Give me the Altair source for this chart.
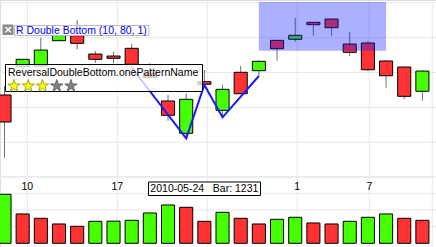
import altair as alt
import pandas as pd

# ---------------- data ----------------
opens  = [1.21678, 1.22083, 1.22093, 1.22456, 1.22527, 1.22265, 1.22236, 1.22347,
          1.21989, 1.21592, 1.21129, 1.21868, 1.21458, 1.22003, 1.22026, 1.22461,
          1.22476, 1.22719, 1.22766, 1.22408, 1.22423, 1.22165, 1.22079, 1.21731]
highs  = [1.21807, 1.22189, 1.22501, 1.22537, 1.22756, 1.22308, 1.22298, 1.22408,
          1.22132, 1.21678, 1.21702, 1.22036, 1.21821, 1.22097, 1.22179, 1.22466,
          1.22785, 1.22723, 1.22766, 1.22580, 1.22451, 1.22179, 1.22079, 1.22036]
lows   = [1.20775, 1.22050, 1.22079, 1.22456, 1.22332, 1.22136, 1.22132, 1.22072,
          1.21903, 1.21309, 1.21057, 1.21821, 1.21358, 1.21692, 1.21950, 1.22169,
          1.22441, 1.22527, 1.22527, 1.22236, 1.22021, 1.21782, 1.21620, 1.21596]
closes = [1.21291, 1.22189, 1.22322, 1.22530, 1.22418, 1.22189, 1.22203, 1.22118,
          1.21931, 1.21387, 1.21616, 1.21831, 1.21759, 1.21696, 1.22160, 1.22341,
          1.22533, 1.22685, 1.22642, 1.22289, 1.22040, 1.21954, 1.21659, 1.22021]
volumes = [2940, 1760, 1500, 1160, 1020, 1320, 1330, 1380, 1820, 2300, 2160, 1320,
           1860, 1500, 1160, 1440, 1560, 1220, 1160, 1320, 1560, 1760, 1500, 1380]

tick_pos = [1.255, 6.208, 11.161, 16.114, 20.077]
tick_labels = ["10", "17", "24", "1", "7"]
edge_grid = [23.544]
price_grid = [1.230, 1.225, 1.220, 1.215, 1.210, 1.205]
volume_grid = [1000, 2000, 3000, 4000]

pattern_idx = [7, 10, 11, 12, 14]          # lows joined by the pattern line
zone_x = [14, 21]
zone_price = [1.22312, 1.23010]

pattern_short = "R Double Bottom"
pattern_params = [10, 80, 1]
pattern_full = "ReversalDoubleBottom.onePatternName"
rating = [1, 1, 1, 0, 0]

cross_index = 11
cross_date = "2010-05-24"
cross_bar = 1231

GREEN = "#46ff00"
RED = "#ff3333"
GRID = "#e8e8e8"
FONT = "Liberation Sans"
NBSP = "\u00a0"

# ---------------- tables ----------------
n = len(opens)
df = pd.DataFrame({"i": list(range(n)), "open": opens, "high": highs,
                   "low": lows, "close": closes, "volume": volumes})
df["dir"] = ["up" if c >= o else "down" for o, c in zip(opens, closes)]
df["vdir"] = ["up"] + ["up" if volumes[k] >= volumes[k - 1] else "down" for k in range(1, n)]

xs = alt.Scale(domain=[-0.2477, 23.748], nice=False, zero=False)
yp = alt.Scale(domain=[1.1950, 1.23039], nice=False, zero=False)
yv = alt.Scale(domain=[-222, 14598], nice=False, zero=False)
cscale = alt.Scale(domain=["up", "down"], range=[GREEN, RED])

HALF = 0.36

# grid
vgrid = alt.Chart(pd.DataFrame({"p": tick_pos + edge_grid})).mark_rule(
    color=GRID, strokeWidth=1).encode(
    x=alt.X("p:Q", scale=xs, axis=None), y=alt.value(0), y2=alt.value(247))
hgrid_p = alt.Chart(pd.DataFrame({"v": price_grid})).mark_rule(
    color=GRID, strokeWidth=1).encode(
    y=alt.Y("v:Q", scale=yp, axis=None), x=alt.value(0), x2=alt.value(436))
hgrid_v = alt.Chart(pd.DataFrame({"v": volume_grid})).mark_rule(
    color=GRID, strokeWidth=1).encode(
    y=alt.Y("v:Q", scale=yv, axis=None), x=alt.value(0), x2=alt.value(436))

base = alt.Chart(df).transform_calculate(
    x0=f"datum.i - {HALF}", x1=f"datum.i + {HALF}", v0="0")

vol = base.mark_rect(stroke="black", strokeWidth=1).encode(
    x=alt.X("x0:Q", scale=xs, axis=None), x2="x1:Q",
    y=alt.Y("volume:Q", scale=yv, axis=None), y2="v0:Q",
    color=alt.Color("vdir:N", scale=cscale, legend=None))

wick = base.mark_rule(color="#707070", strokeWidth=1).encode(
    x=alt.X("i:Q", scale=xs, axis=None),
    y=alt.Y("high:Q", scale=yp, axis=None), y2="low:Q")

body = base.mark_rect(stroke="black", strokeWidth=1).encode(
    x=alt.X("x0:Q", scale=xs, axis=None), x2="x1:Q",
    y=alt.Y("open:Q", scale=yp, axis=None), y2="close:Q",
    color=alt.Color("dir:N", scale=cscale, legend=None))

zone = alt.Chart(pd.DataFrame({"a": [zone_x[0]], "b": [zone_x[1]],
                               "lo": [zone_price[0]], "hi": [zone_price[1]]})).mark_rect(
    color="#1020ff", opacity=0.35).encode(
    x=alt.X("a:Q", scale=xs, axis=None), x2="b:Q",
    y=alt.Y("lo:Q", scale=yp, axis=None), y2="hi:Q")

pline = alt.Chart(df[df["i"].isin(pattern_idx)]).mark_line(
    color="#1a1aff", strokeWidth=2).encode(
    x=alt.X("i:Q", scale=xs, axis=None),
    y=alt.Y("low:Q", scale=yp, axis=None), order="i:Q")

# tick labels; the one under the crosshair date box is hidden by it
tick_df = pd.DataFrame({"p": tick_pos, "t": tick_labels})
tick_df = tick_df[(tick_df["p"] - cross_index).abs() > 3]
ticks = alt.Chart(tick_df).mark_text(
    font=FONT, fontSize=10.5, color="black", baseline="middle", align="center").encode(
    x=alt.X("p:Q", scale=xs, axis=None), y=alt.value(186.5), text="t:N")

# pattern label (top-left)
one = pd.DataFrame({"k": [0]})
icon = alt.Chart(one).mark_rect(color="#8a8a8a").encode(
    x=alt.value(2.5), x2=alt.value(13.5), y=alt.value(24.5), y2=alt.value(35))
icon_x = alt.Chart(one).mark_text(text="×", font="DejaVu Sans", fontSize=11,
                                  fontWeight="bold", color="white",
                                  baseline="middle", align="center").encode(
    x=alt.value(8), y=alt.value(29.5))
lbl_box = alt.Chart(one).mark_rect(fill="white", stroke="#b8b8cc", strokeWidth=1).encode(
    x=alt.value(14.5), x2=alt.value(149), y=alt.value(25.5), y2=alt.value(35.5))
lbl_text = alt.Chart(one).mark_text(
    text=f"{pattern_short} ({', '.join(str(p) for p in pattern_params)})",
    font=FONT, fontSize=10.5, color="#0000ff", align="left",
    baseline="alphabetic").encode(x=alt.value(16), y=alt.value(33.8))

# hover tooltip
tip_box = alt.Chart(one).mark_rect(fill="white", fillOpacity=0.75, stroke="black",
                                   strokeWidth=1).encode(
    x=alt.value(5.5), x2=alt.value(202.5), y=alt.value(64.5), y2=alt.value(91.5))
tip_text = alt.Chart(one).mark_text(text=pattern_full, font=FONT, fontSize=10.5,
                                    color="black", align="left",
                                    baseline="alphabetic").encode(
    x=alt.value(8), y=alt.value(75.7))
STAR = ("M0,-1L0.2245,-0.309L0.951,-0.309L0.363,0.118L0.588,0.809L0,0.382"
        "L-0.588,0.809L-0.363,0.118L-0.951,-0.309L-0.2245,-0.309Z")
stars = alt.Chart(pd.DataFrame({"k": list(range(len(rating))), "on": rating})).mark_point(
    shape=STAR, filled=True, size=170, strokeWidth=1, opacity=1).encode(
    x=alt.X("k:Q", scale=alt.Scale(domain=[0, 4], range=[14, 71]), axis=None),
    y=alt.value(86),
    fill=alt.Fill("on:N", scale=alt.Scale(domain=[1, 0], range=["#ffff22", "#808080"]), legend=None),
    stroke=alt.Stroke("on:N", scale=alt.Scale(domain=[1, 0], range=["#a8a800", "#6a6a6a"]), legend=None))

# crosshair date box
date_box = alt.Chart(one).mark_rect(fill="white", stroke="black", strokeWidth=1).encode(
    x=alt.value(148.5), x2=alt.value(260.5), y=alt.value(182), y2=alt.value(195.5))
date_text = alt.Chart(pd.DataFrame({"i": [cross_index],
                                    "t": [f"{cross_date}{NBSP * 3}Bar: {cross_bar}"]})).mark_text(
    font=FONT, fontSize=10.5, color="black", align="center", baseline="middle").encode(
    x=alt.X("i:Q", scale=xs, axis=None), y=alt.value(189), text="t:N")

chart = alt.layer(
    vgrid, hgrid_p, hgrid_v, vol, wick, body, zone, pline, ticks,
    icon, lbl_box, icon_x, lbl_text, tip_box, tip_text, stars, date_box, date_text
).resolve_scale(x="independent", y="independent").properties(
    width=436, height=247, padding=0,
    autosize=alt.AutoSizeParams(type="none")
).configure_view(strokeWidth=0).configure(background="white")

chart.save("out.html", embed_options={"renderer": "svg", "actions": False})
